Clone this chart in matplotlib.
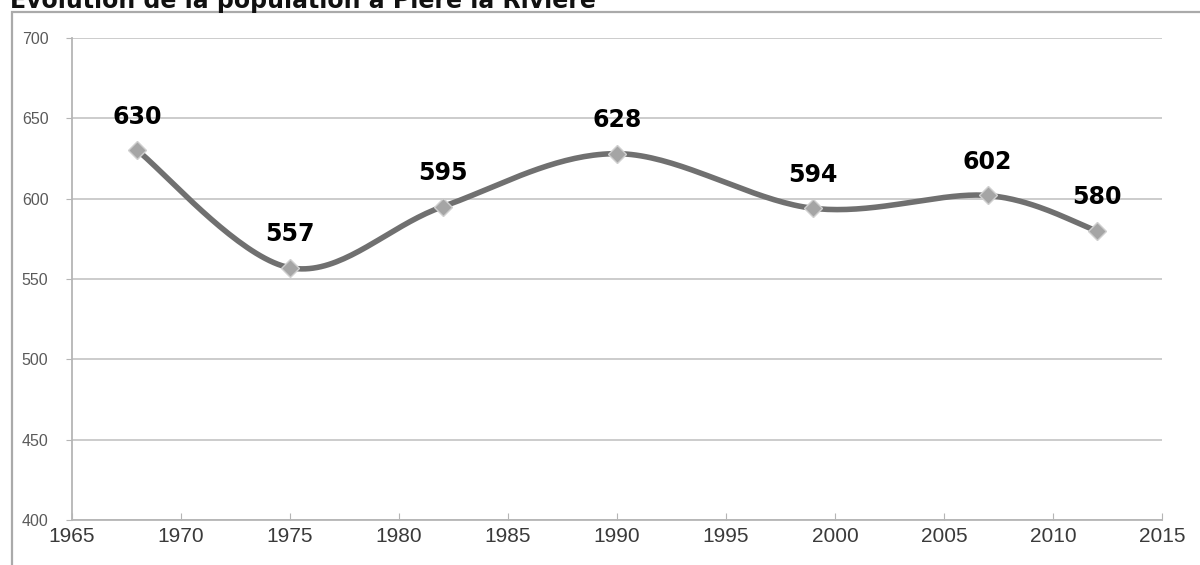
import numpy as np
import matplotlib
matplotlib.use("Agg")
from matplotlib import pyplot as plt
from matplotlib.patches import Rectangle

years = [1968, 1975, 1982, 1990, 1999, 2007, 2012]
population = [630, 557, 595, 628, 594, 602, 580]
x_ticks = [1965, 1970, 1975, 1980, 1985, 1990, 1995, 2000, 2005, 2010, 2015]
y_ticks = [400, 450, 500, 550, 600, 650, 700]
title = "Évolution de la population à Piere la Rivière"


# courbe lissée façon tableur (bezier type catmull-rom)
def smooth(xs, ys, n=40):
    pts = np.column_stack([xs, ys]).astype(float)
    pts = np.vstack([pts[0], pts, pts[-1]])
    out = []
    t = np.linspace(0, 1, n)[:, None]
    for i in range(1, len(pts) - 2):
        p0, p1, p2, p3 = pts[i - 1], pts[i], pts[i + 1], pts[i + 2]
        c1 = p1 + (p2 - p0) / 6
        c2 = p2 - (p3 - p1) / 6
        seg = ((1 - t) ** 3) * p1 + 3 * ((1 - t) ** 2) * t * c1 + 3 * (1 - t) * t ** 2 * c2 + t ** 3 * p2
        out.append(seg)
    out = np.vstack(out)
    return out[:, 0], out[:, 1]


fig = plt.figure(figsize=(12, 5.65), dpi=100)

# titre coupé en haut, comme sur l'original
fig.text(10 / 1200, (565 - 8) / 565, title, fontsize=17, fontweight="bold",
         family="DejaVu Sans", color="#111111", va="baseline", ha="left")

# cadre du graphique
fig.patches.append(Rectangle((12 / 1200, -0.05), 1.1, (565 - 12) / 565 + 0.05,
                             transform=fig.transFigure, facecolor="white",
                             edgecolor="#aaaaaa", linewidth=1.6, zorder=1))

ax = fig.add_axes([72 / 1200, 45 / 565, 1090 / 1200, 482 / 565])
ax.set_zorder(2)
ax.patch.set_alpha(0)
ax.set_xlim(1965, 2015)
ax.set_ylim(400, 700)
ax.set_xticks(x_ticks)
ax.set_yticks(y_ticks)
ax.grid(axis="y", color="#c8c8c8", linewidth=1.3)
ax.set_axisbelow(True)
for s in ["top", "right"]:
    ax.spines[s].set_visible(False)
for s in ["left", "bottom"]:
    ax.spines[s].set_color("#b5b5b5")
    ax.spines[s].set_linewidth(1.3)
ax.tick_params(axis="x", direction="in", length=5, color="#b5b5b5",
               labelsize=15, labelcolor="#3a3a3a", pad=5)
ax.tick_params(axis="y", direction="out", length=4, color="#b5b5b5",
               labelsize=11.5, labelcolor="#5a5a5a", pad=13)
for lab in ax.get_xticklabels() + ax.get_yticklabels():
    lab.set_family("Liberation Sans")

sx, sy = smooth(years, population)
ax.plot(sx, sy, color="#707070", linewidth=4, solid_capstyle="round", zorder=3)
ax.plot(years, population, linestyle="none", marker="D", markersize=9,
        markerfacecolor="#a5a5a5", markeredgecolor="#cfcfcf", markeredgewidth=1, zorder=4)

for x, y in zip(years, population):
    ax.annotate(str(y), (x, y), xytext=(0, 19), textcoords="offset points",
                ha="center", va="baseline", fontsize=17, fontweight="bold",
                family="DejaVu Sans", color="#000000")

fig.savefig("out.png", dpi=100)
